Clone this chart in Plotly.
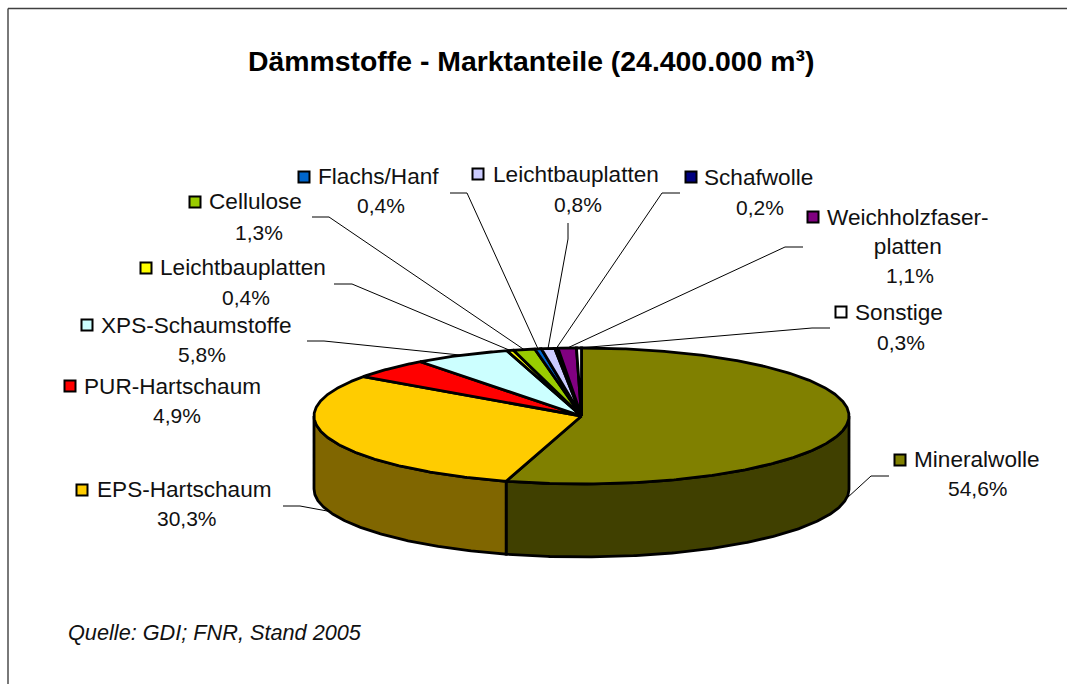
import math
import plotly.graph_objects as go

# --- data ---
categories = ["Mineralwolle", "EPS-Hartschaum", "PUR-Hartschaum", "XPS-Schaumstoffe",
              "Leichtbauplatten", "Cellulose", "Flachs/Hanf", "Leichtbauplatten",
              "Schafwolle", "Weichholzfaser-<br>platten", "Sonstige"]
values = [54.6, 30.3, 4.9, 5.8, 0.4, 1.3, 0.4, 0.8, 0.2, 1.1, 0.3]
colors = ["#808000", "#FFCC00", "#FF0000", "#CCFFFF", "#FFFF00", "#99CC00",
          "#0066CC", "#CCCCFF", "#000080", "#800080", "#FFFFFF"]
wall_colors = ["#404000", "#806600", "#800000", "#668080", "#808000", "#4D6600",
               "#003366", "#666680", "#000040", "#400040", "#808080"]

title_text = "Dämmstoffe - Marktanteile (24.400.000 m³)"
source_text = "Quelle: GDI; FNR, Stand 2005"

# --- layout of the drawing (pixel-like axis units) ---
W, H = 1067, 684
CX, CY, RX, RY, DEPTH = 581.5, 416, 267.5, 68, 73

# swatch (x, y), name left x, name y, percent centre (x, y), elbow, stub end
label_layout = [
    ((900, 460), 912, 459, (978, 488), (871, 476), (889, 476)),
    ((82, 490), 95, 489, (187, 518), (300, 506), (283, 506)),
    ((70, 386), 82, 386, (177, 415), None, None),
    ((87, 325), 99, 325, (202, 354), (324, 341), (307, 341)),
    ((146, 268), 158, 267, (246, 297), (352, 284), (334, 284)),
    ((195, 202), 207, 201, (259, 232), (329, 217), (312, 217)),
    ((304, 177), 316, 176, (381, 205), (467, 193), (450, 193)),
    ((478, 174), 491, 174, (578, 204), (568, 239), (568, 223)),
    ((691, 177), 702, 177, (760, 207), (662, 193), (680, 193)),
    ((813, 217), 825, 232, (910, 275), (785, 247), (803, 247)),
    ((841, 312), 853, 312, (901, 342), (812, 328), (830, 328)),
]

total = sum(values)
FONT = "Liberation Sans, Arial, sans-serif"
INK = "#111111"


def rim(theta_deg, drop=0.0):
    t = math.radians(theta_deg)
    return CX + RX * math.sin(t), CY - RY * math.cos(t) + drop


def arc(a, b, drop=0.0):
    n = max(2, int(abs(b - a) * 2))
    return [rim(a + (b - a) * i / n, drop) for i in range(n + 1)]


edges = [0.0]
for v in values:
    edges.append(edges[-1] + v / total * 360)

fig = go.Figure()

# side walls (only the front half, 90..270 degrees, is visible)
for i, name in enumerate(categories):
    a, b = max(edges[i], 90), min(edges[i + 1], 270)
    if b <= a:
        continue
    pts = arc(a, b) + arc(b, a, DEPTH)
    xs, ys = zip(*pts)
    fig.add_trace(go.Scatter(x=list(xs) + [xs[0]], y=list(ys) + [ys[0]], mode="lines",
                             fill="toself", fillcolor=wall_colors[i],
                             line=dict(color="#000000", width=2.8), hoverinfo="skip"))

# top faces
for i, name in enumerate(categories):
    pts = [(CX, CY)] + arc(edges[i], edges[i + 1]) + [(CX, CY)]
    xs, ys = zip(*pts)
    fig.add_trace(go.Scatter(x=xs, y=ys, mode="lines", fill="toself", fillcolor=colors[i],
                             line=dict(color="#000000", width=2.8), name=name.replace("<br>", "")))

# leader lines: stub -> elbow -> slice edge at the slice's mid angle
for i, lay in enumerate(label_layout):
    elbow, stub = lay[4], lay[5]
    if elbow is None:
        continue
    mid = (edges[i] + edges[i + 1]) / 2
    front = 90 < mid < 270
    ex, ey = rim(mid, DEPTH if front else 0)
    fig.add_trace(go.Scatter(x=[stub[0], elbow[0], ex], y=[stub[1], elbow[1], ey], mode="lines",
                             line=dict(color="#000000", width=1), hoverinfo="skip"))

# legend-key swatches
fig.add_trace(go.Scatter(x=[l[0][0] for l in label_layout], y=[l[0][1] for l in label_layout],
                         mode="markers", hoverinfo="skip",
                         marker=dict(symbol="square", size=11, color=colors,
                                     line=dict(color="#000000", width=2))))

annotations = []
for i, (name, lay) in enumerate(zip(categories, label_layout)):
    annotations.append(dict(x=lay[1], y=lay[2], text=name, xanchor="left", yanchor="middle",
                            showarrow=False, align="center",
                            font=dict(family=FONT, size=22.6, color=INK)))
    pct = f"{values[i]:.1f}%".replace(".", ",")
    annotations.append(dict(x=lay[3][0], y=lay[3][1], text=pct, xanchor="center", yanchor="middle",
                            showarrow=False, font=dict(family=FONT, size=21, color=INK)))

annotations.append(dict(x=530.5, y=61, text=f"<b>{title_text}</b>", xanchor="center", yanchor="middle",
                        showarrow=False, font=dict(family=FONT, size=28.4, color="#000000")))
annotations.append(dict(x=66, y=632, text=f"<i>{source_text}</i>", xanchor="left", yanchor="middle",
                        showarrow=False, font=dict(family=FONT, size=21.7, color=INK)))

fig.update_layout(
    width=W, height=H, margin=dict(l=0, r=0, t=0, b=0), showlegend=False,
    paper_bgcolor="white", plot_bgcolor="white", annotations=annotations,
    xaxis=dict(range=[0, W], visible=False, fixedrange=True),
    yaxis=dict(range=[H, 0], visible=False, fixedrange=True),
    shapes=[
        dict(type="line", x0=8, x1=8, y0=8.5, y1=H, line=dict(color="#404040", width=1.4)),
        dict(type="line", x0=8, x1=W, y0=8.5, y1=8.5, line=dict(color="#404040", width=1.4)),
    ],
)

fig.write_html("out.html", config=dict(displayModeBar=False),
               post_script="document.body.style.margin='0';")
